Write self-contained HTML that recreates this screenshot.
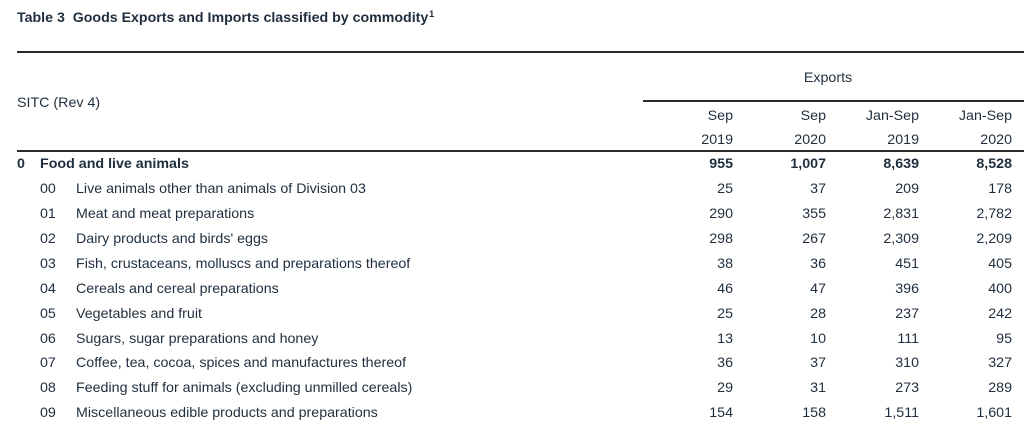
<!DOCTYPE html>
<html><head><meta charset="utf-8"><style>
html,body{margin:0;padding:0;background:#fff;}
body{width:1024px;height:424px;position:relative;overflow:hidden;font-family:"Liberation Sans",Arial,sans-serif;color:#1f2e3e;}
.w{position:absolute;left:0;top:1px;width:1024px;height:424px;}
.t{position:absolute;font-size:14.25px;line-height:20px;white-space:nowrap;}
.b{font-weight:bold;}
.r{text-align:right;width:100px;}
.ln{position:absolute;height:2px;background:#2a2a2a;}
</style></head><body>
<div class="ln" style="left:17px;top:51px;width:1007px;"></div>
<div class="ln" style="left:643px;top:100px;width:381px;"></div>
<div class="ln" style="left:17px;top:150px;width:1007px;"></div>
<div class="w">
<div class="t b" style="left:17px;top:7px;font-size:14.2px;">Table 3&nbsp; Goods Exports and Imports classified by commodity</div>
<div class="t b" style="left:429px;top:8.6px;font-size:9.5px;line-height:10px;">1</div>
<div class="t" style="left:780px;top:67px;width:96px;text-align:center;">Exports</div>
<div class="t" style="left:17px;top:92px;">SITC (Rev 4)</div>
<div class="t r" style="left:633px;top:105px;">Sep</div>
<div class="t r" style="left:726px;top:105px;">Sep</div>
<div class="t r" style="left:819px;top:105px;">Jan-Sep</div>
<div class="t r" style="left:912px;top:105px;">Jan-Sep</div>
<div class="t r" style="left:633px;top:129px;">2019</div>
<div class="t r" style="left:726px;top:129px;">2020</div>
<div class="t r" style="left:819px;top:129px;">2019</div>
<div class="t r" style="left:912px;top:129px;">2020</div>

<div class="t b" style="left:17px;top:153px;">0</div>
<div class="t b" style="left:40px;top:153px;">Food and live animals</div>
<div class="t r b" style="left:633px;top:153px;">955</div>
<div class="t r b" style="left:726px;top:153px;">1,007</div>
<div class="t r b" style="left:819px;top:153px;">8,639</div>
<div class="t r b" style="left:912px;top:153px;">8,528</div>

<div class="t" style="left:40px;top:178px;">00</div><div class="t" style="left:76px;top:178px;">Live animals other than animals of Division 03</div>
<div class="t r" style="left:633px;top:178px;">25</div><div class="t r" style="left:726px;top:178px;">37</div><div class="t r" style="left:819px;top:178px;">209</div><div class="t r" style="left:912px;top:178px;">178</div>

<div class="t" style="left:40px;top:203px;">01</div><div class="t" style="left:76px;top:203px;">Meat and meat preparations</div>
<div class="t r" style="left:633px;top:203px;">290</div><div class="t r" style="left:726px;top:203px;">355</div><div class="t r" style="left:819px;top:203px;">2,831</div><div class="t r" style="left:912px;top:203px;">2,782</div>

<div class="t" style="left:40px;top:228px;">02</div><div class="t" style="left:76px;top:228px;">Dairy products and birds' eggs</div>
<div class="t r" style="left:633px;top:228px;">298</div><div class="t r" style="left:726px;top:228px;">267</div><div class="t r" style="left:819px;top:228px;">2,309</div><div class="t r" style="left:912px;top:228px;">2,209</div>

<div class="t" style="left:40px;top:253px;">03</div><div class="t" style="left:76px;top:253px;">Fish, crustaceans, molluscs and preparations thereof</div>
<div class="t r" style="left:633px;top:253px;">38</div><div class="t r" style="left:726px;top:253px;">36</div><div class="t r" style="left:819px;top:253px;">451</div><div class="t r" style="left:912px;top:253px;">405</div>

<div class="t" style="left:40px;top:278px;">04</div><div class="t" style="left:76px;top:278px;">Cereals and cereal preparations</div>
<div class="t r" style="left:633px;top:278px;">46</div><div class="t r" style="left:726px;top:278px;">47</div><div class="t r" style="left:819px;top:278px;">396</div><div class="t r" style="left:912px;top:278px;">400</div>

<div class="t" style="left:40px;top:303px;">05</div><div class="t" style="left:76px;top:303px;">Vegetables and fruit</div>
<div class="t r" style="left:633px;top:303px;">25</div><div class="t r" style="left:726px;top:303px;">28</div><div class="t r" style="left:819px;top:303px;">237</div><div class="t r" style="left:912px;top:303px;">242</div>

<div class="t" style="left:40px;top:328px;">06</div><div class="t" style="left:76px;top:328px;">Sugars, sugar preparations and honey</div>
<div class="t r" style="left:633px;top:328px;">13</div><div class="t r" style="left:726px;top:328px;">10</div><div class="t r" style="left:819px;top:328px;">111</div><div class="t r" style="left:912px;top:328px;">95</div>

<div class="t" style="left:40px;top:352px;">07</div><div class="t" style="left:76px;top:352px;">Coffee, tea, cocoa, spices and manufactures thereof</div>
<div class="t r" style="left:633px;top:352px;">36</div><div class="t r" style="left:726px;top:352px;">37</div><div class="t r" style="left:819px;top:352px;">310</div><div class="t r" style="left:912px;top:352px;">327</div>

<div class="t" style="left:40px;top:377px;">08</div><div class="t" style="left:76px;top:377px;">Feeding stuff for animals (excluding unmilled cereals)</div>
<div class="t r" style="left:633px;top:377px;">29</div><div class="t r" style="left:726px;top:377px;">31</div><div class="t r" style="left:819px;top:377px;">273</div><div class="t r" style="left:912px;top:377px;">289</div>

<div class="t" style="left:40px;top:402px;">09</div><div class="t" style="left:76px;top:402px;">Miscellaneous edible products and preparations</div>
<div class="t r" style="left:633px;top:402px;">154</div><div class="t r" style="left:726px;top:402px;">158</div><div class="t r" style="left:819px;top:402px;">1,511</div><div class="t r" style="left:912px;top:402px;">1,601</div>
</div>
</body></html>
